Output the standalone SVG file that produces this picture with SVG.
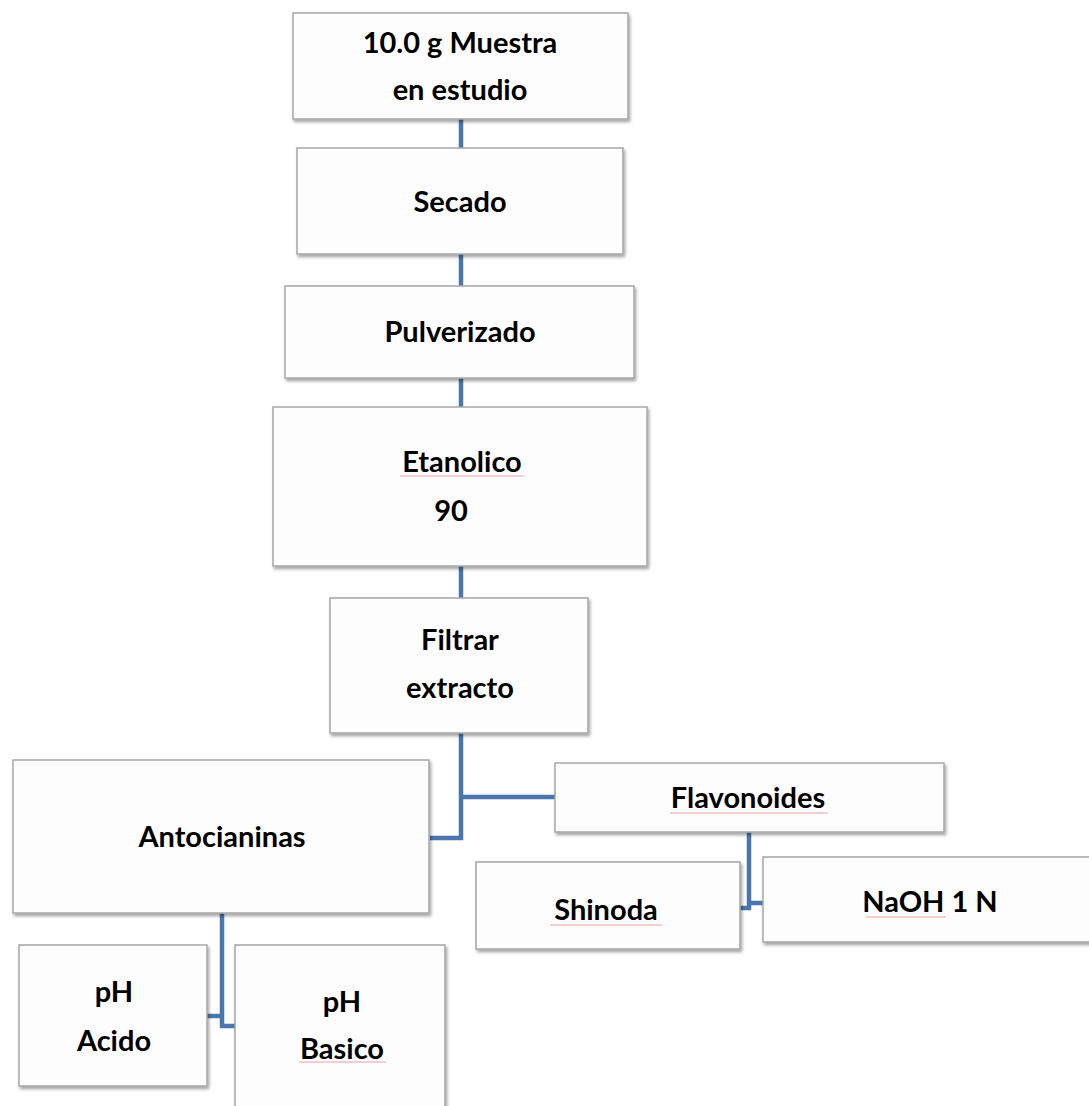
<svg xmlns="http://www.w3.org/2000/svg" width="1089" height="1106" viewBox="0 0 1089 1106">
<defs>
<filter id="sh" x="-10%" y="-10%" width="125%" height="130%">
<feDropShadow dx="1.5" dy="2.5" stdDeviation="1.5" flood-color="#000" flood-opacity="0.35"/>
</filter>
</defs>
<style>
.box{fill:#fdfdfd;stroke:#a6a6a6;stroke-width:1.5;filter:url(#sh)}
.t{font-family:Lato,"Open Sans","Liberation Sans",sans-serif;font-weight:bold;font-size:29px;fill:#000;text-anchor:middle}
.c{fill:none;stroke:#4a76ae;stroke-width:4.5}
.u{stroke:#eaa2a2;stroke-width:1}
</style>
<rect width="1089" height="1106" fill="#fff"/>
<g id="connectors">
<path class="c" d="M461,118 V148"/>
<path class="c" d="M461,254 V286"/>
<path class="c" d="M461,378 V407"/>
<path class="c" d="M461,566 V598"/>
<path class="c" d="M461,733 V838 H430"/>
<path class="c" d="M461,797 H555"/>
<path class="c" d="M749,832 V908 H740"/>
<path class="c" d="M749,903 H763"/>
<path class="c" d="M222,913 V1026 H235"/>
<path class="c" d="M222,1016 H207"/>
</g>
<g id="n1"><rect class="box" x="293" y="13" width="335" height="106"/><text class="t" x="460" y="53">10.0 g Muestra</text><text class="t" x="460" y="100">en estudio</text></g>
<g id="n2"><rect class="box" x="297" y="148" width="326" height="106"/><text class="t" x="460" y="212">Secado</text></g>
<g id="n3"><rect class="box" x="285" y="286" width="349" height="92"/><text class="t" x="460" y="342">Pulverizado</text></g>
<g id="n4"><rect class="box" x="273" y="407" width="374" height="159"/><text class="t" x="462" y="472">Etanolico</text><line class="u" x1="400" y1="476" x2="524" y2="476"/><text class="t" x="451" y="521">90</text></g>
<g id="n5"><rect class="box" x="330" y="598" width="258" height="135"/><text class="t" x="460" y="650">Filtrar</text><text class="t" x="460" y="698">extracto</text></g>
<g id="n6"><rect class="box" x="13" y="760" width="416" height="153"/><text class="t" x="222" y="847">Antocianinas</text></g>
<g id="n7"><rect class="box" x="555" y="763" width="389" height="69"/><text class="t" x="748" y="808">Flavonoides</text><line class="u" x1="670" y1="813" x2="828" y2="813"/></g>
<g id="n8"><rect class="box" x="476" y="862" width="264" height="87"/><text class="t" x="606" y="920">Shinoda</text><line class="u" x1="550" y1="925" x2="662" y2="925"/></g>
<g id="n9"><rect class="box" x="763" y="857" width="330" height="85"/><text class="t" x="930" y="912">NaOH 1 N</text><line class="u" x1="866" y1="917" x2="946" y2="917"/></g>
<g id="n10"><rect class="box" x="19" y="945" width="188" height="141"/><text class="t" x="114" y="1002">pH</text><text class="t" x="114" y="1051">Acido</text></g>
<g id="n11"><rect class="box" x="235" y="945" width="210" height="170"/><text class="t" x="342" y="1012">pH</text><text class="t" x="342" y="1059">Basico</text><line class="u" x1="299" y1="1062" x2="386" y2="1062"/></g>
</svg>
